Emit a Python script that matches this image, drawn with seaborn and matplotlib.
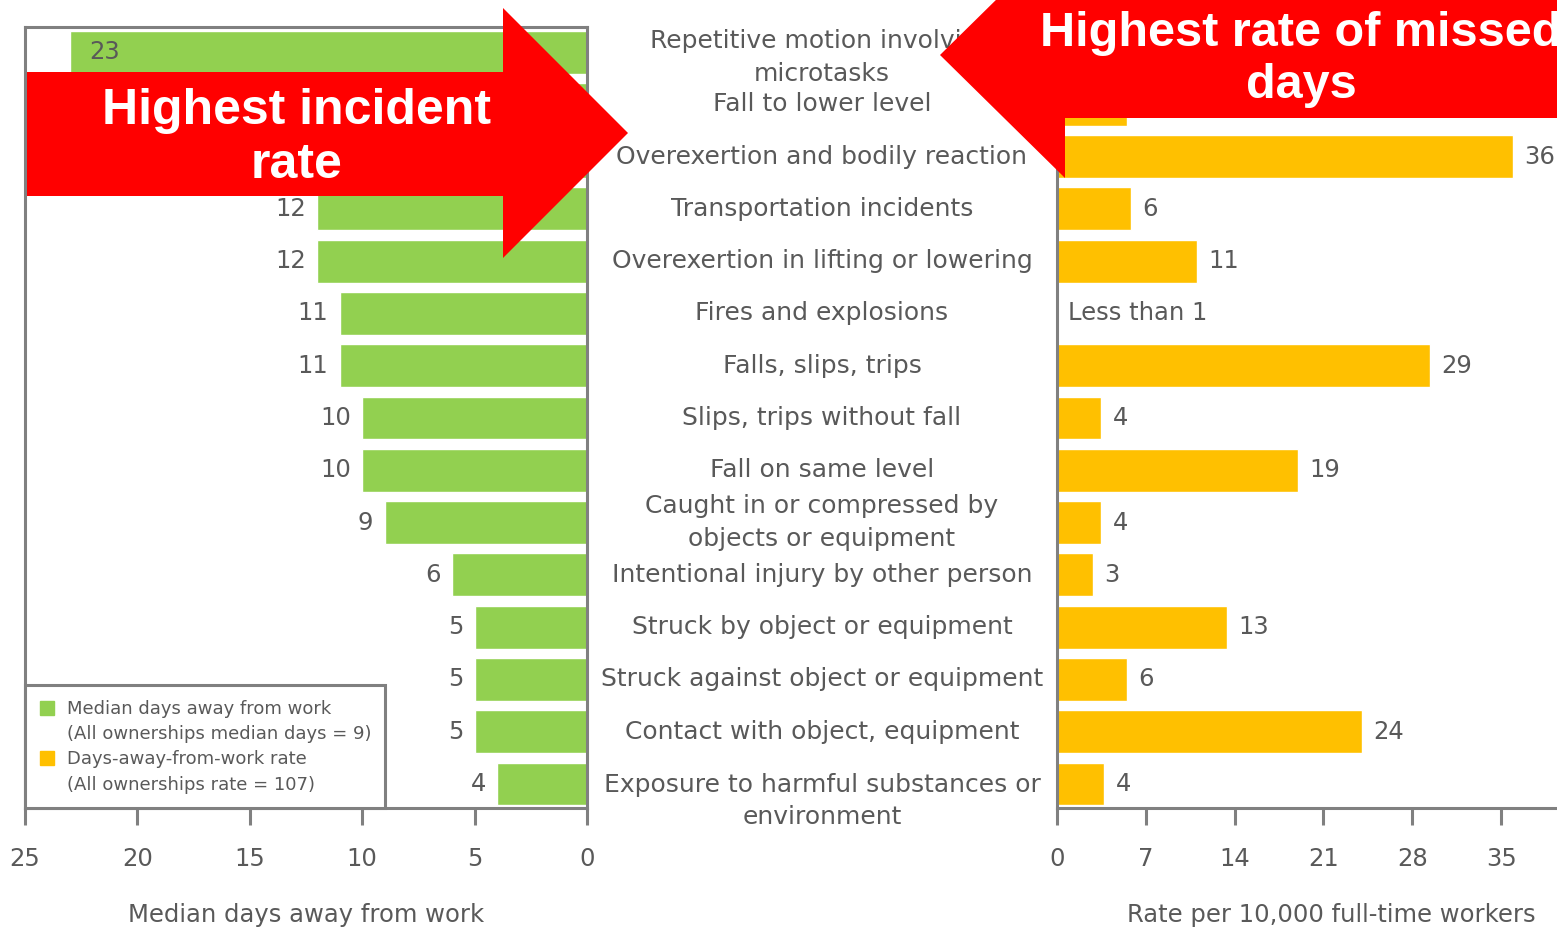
import numpy as np
import pandas as pd
import matplotlib
matplotlib.use("Agg")
import matplotlib.pyplot as plt
import matplotlib.transforms as mtransforms
from matplotlib.patches import Polygon
from matplotlib.lines import Line2D
from matplotlib import font_manager
import seaborn as sns

# ---------------- data ----------------
categories = [
    "Repetitive motion involving\nmicrotasks",
    "Fall to lower level",
    "Overexertion and bodily reaction",
    "Transportation incidents",
    "Overexertion in lifting or lowering",
    "Fires and explosions",
    "Falls, slips, trips",
    "Slips, trips without fall",
    "Fall on same level",
    "Caught in or compressed by\nobjects or equipment",
    "Intentional injury by other person",
    "Struck by object or equipment",
    "Struck against object or equipment",
    "Contact with object, equipment",
    "Exposure to harmful substances or\nenvironment",
]
median_days = [23, 14, 13, 12, 12, 11, 11, 10, 10, 9, 6, 5, 5, 5, 4]
median_labels = ["23", "14", "13", "12", "12", "11", "11", "10", "10", "9", "6", "5", "5", "5", "4"]
rate = [2.0, 5.5, 35.9, 5.8, 11.0, 0.0, 29.4, 3.5, 19.0, 3.5, 2.8, 13.4, 5.5, 24.0, 3.7]
rate_labels = ["2", "6", "36", "6", "11", "Less than 1", "29", "4", "19", "4", "3", "13", "6", "24", "4"]
left_ticks = [0, 5, 10, 15, 20, 25]
right_ticks = [0, 7, 14, 21, 28, 35]
legend_lines = ["Median days away from work", "(All ownerships median days = 9)",
                "Days-away-from-work rate", "(All ownerships rate = 107)"]
left_xlabel = "Median days away from work"
right_xlabel = "Rate per 10,000 full-time workers"
arrow_left_text = "Highest incident\nrate"
arrow_right_text = "Highest rate of missed\ndays"

# ---------------- style ----------------
GREEN = "#92D050"
ORANGE = "#FFC000"
RED = "#FF0000"
TXT = "#595959"
SPINE = "#808080"

sns.set_theme(style="white")
plt.rcParams["font.family"] = ["DejaVu Sans"]

avail = {f.name for f in font_manager.fontManager.ttflist}
BIGFONT = "Liberation Sans" if "Liberation Sans" in avail else "DejaVu Sans"

W, H = 1557, 936
fig = plt.figure(figsize=(W / 100, H / 100), dpi=100)
fig.patch.set_facecolor("white")

ax1 = fig.add_axes([25 / W, 1 - 808 / H, 562 / W, 781 / H])
ax2 = fig.add_axes([1057 / W, 1 - 808 / H, 500 / W, 781 / H])

df = pd.DataFrame({"category": categories, "median": median_days, "rate": rate})

sns.barplot(data=df, y="category", x="median", orient="h", color=GREEN,
            saturation=1, width=0.82, ax=ax1)
sns.barplot(data=df, y="category", x="rate", orient="h", color=ORANGE,
            saturation=1, width=0.82, ax=ax2)

n = len(categories)
for ax in (ax1, ax2):
    ax.set_ylim(n - 1 + 0.46, -0.48)
    ax.set_yticks([])
    ax.set_ylabel("")
    ax.tick_params(axis="x", length=12, width=2.2, color=SPINE, pad=16,
                   labelsize=17.5, labelcolor=TXT, direction="out", bottom=True)
    for sp in ax.spines.values():
        sp.set_color(SPINE)
        sp.set_linewidth(2.2)

AXH = 781.0
ax1.set_xlim(25, 0)
ax1.set_xticks(left_ticks)
ax1.set_xlabel(left_xlabel, fontsize=17.5, color=TXT)
ax1.xaxis.set_label_coords((306 - 25) / 562, -(915 - 808) / AXH)
ax1.xaxis.label.set_va("center")

ax2.set_xlim(0, 39.4)
ax2.set_xticks(right_ticks)
ax2.spines["top"].set_visible(False)
ax2.spines["right"].set_visible(False)
ax2.set_xlabel(right_xlabel, fontsize=17.5, color=TXT)
ax2.xaxis.set_label_coords((1331 - 1057) / 500, -(915 - 808) / AXH)
ax2.xaxis.label.set_va("center")

# value labels, left
for i, (v, lab) in enumerate(zip(median_days, median_labels)):
    if v >= 20:
        ax1.text(v - 0.85, i, lab, ha="left", va="center", fontsize=17.5, color=TXT)
    else:
        ax1.text(v + 0.5, i, lab, ha="right", va="center", fontsize=17.5, color=TXT)

# value labels, right
for i, (v, lab) in enumerate(zip(rate, rate_labels)):
    ax2.text(v + 0.9, i, lab, ha="left", va="center", fontsize=17.5, color=TXT)

# category labels in the middle
trans = mtransforms.blended_transform_factory(fig.transFigure, ax2.transData)
y_shift = {0: 0.1, 14: 0.33}
for i, c in enumerate(categories):
    fig.text(822 / W, i + y_shift.get(i, 0.0), c, transform=trans, ha="center",
             va="center", fontsize=18, color=TXT, linespacing=1.45)

# legend with markers aligned on first lines
handles = [
    Line2D([], [], marker="s", ls="", color=GREEN, markersize=10),
    Line2D([], [], marker="s", ls="", color="none", markersize=10),
    Line2D([], [], marker="s", ls="", color=ORANGE, markersize=10),
    Line2D([], [], marker="s", ls="", color="none", markersize=10),
]
leg = ax1.legend(handles, legend_lines, loc="lower left", bbox_to_anchor=(0, 0),
                 borderaxespad=0, fontsize=13, frameon=True, fancybox=False,
                 edgecolor=SPINE, framealpha=1, labelspacing=0.4,
                 handletextpad=0.7, handlelength=0.8, borderpad=0.8)
leg.get_frame().set_linewidth(2.2)
for t in leg.get_texts():
    t.set_color(TXT)

# ---------------- arrows overlay ----------------
ov = fig.add_axes([0, 0, 1, 1], zorder=10)
ov.set_xlim(0, W)
ov.set_ylim(H, 0)
ov.axis("off")
ov.patch.set_alpha(0)

left_arrow = [(27, 72), (503, 72), (503, 8), (628, 133), (503, 258), (503, 196), (27, 196)]
right_arrow = [(1560, -8), (1065, -8), (1065, -68), (940, 55), (1065, 178), (1065, 118), (1560, 118)]
ov.add_patch(Polygon(left_arrow, closed=True, facecolor=RED, edgecolor="none"))
ov.add_patch(Polygon(right_arrow, closed=True, facecolor=RED, edgecolor="none"))
ov.text(297, 138, arrow_left_text, ha="center", va="center", color="white",
        fontsize=36, fontweight="bold", family=BIGFONT, linespacing=1.2)
ov.text(1301, 60, arrow_right_text, ha="center", va="center", color="white",
        fontsize=35, fontweight="bold", family=BIGFONT, linespacing=1.2)

fig.savefig("out.png", dpi=100)
